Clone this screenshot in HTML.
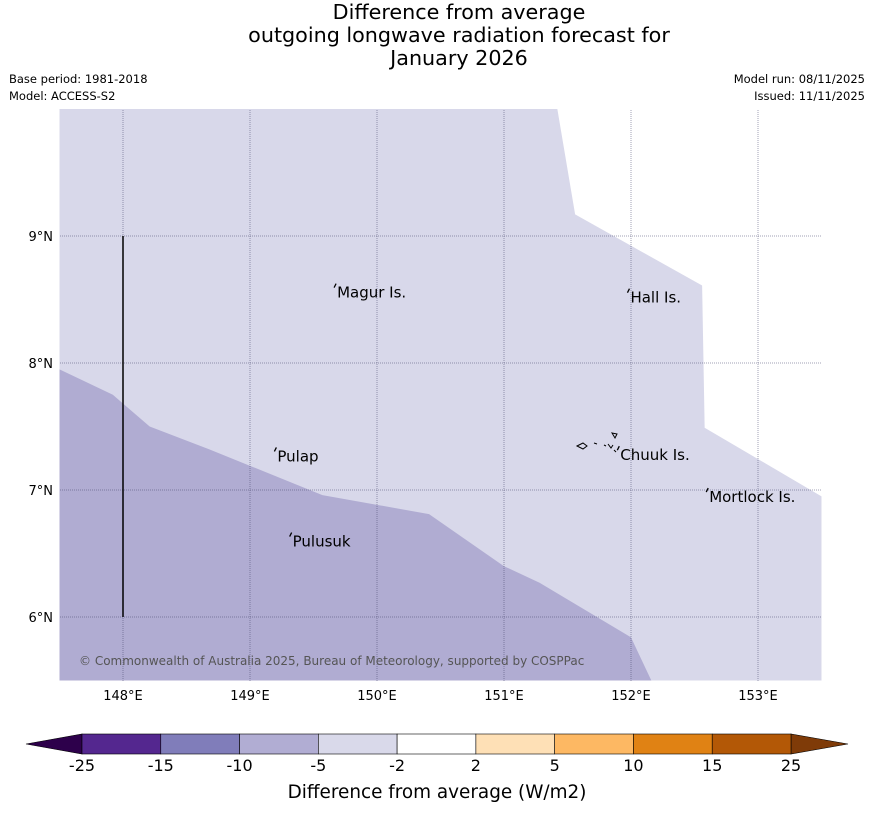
<!DOCTYPE html>
<html><head><meta charset="utf-8"><style>
body{margin:0;background:#fff;width:873px;height:816px;overflow:hidden;font-family:"Liberation Sans","DejaVu Sans",sans-serif}
</style></head><body>
<svg id="c" width="873" height="816" xmlns="http://www.w3.org/2000/svg" font-family="DejaVu Sans, Liberation Sans, sans-serif">
<g font-size="20.7" text-anchor="middle" fill="#000">
<text x="459" y="19">Difference from average</text>
<text x="459" y="42">outgoing longwave radiation forecast for</text>
<text x="459" y="65">January 2026</text>
</g>
<g font-size="11.5" fill="#000">
<text x="9" y="83">Base period: 1981-2018</text>
<text x="9" y="100">Model: ACCESS-S2</text>
<text x="865" y="83" text-anchor="end">Model run: 08/11/2025</text>
<text x="865" y="100" text-anchor="end">Issued: 11/11/2025</text>
</g>
<g id="map"></g>
<g id="cb"></g>
<text x="437" y="798" font-size="18.4" text-anchor="middle">Difference from average (W/m2)</text>
</svg>
<script>
const lonTicks=[148,149,150,151,152,153];
const latTicks=[9,8,7,6];
const lightRegion=[[147.5,10],[151.42,10],[151.56,9.17],[152.56,8.61],[152.58,7.49],[153.5,6.95],[153.5,5.5],[147.5,5.5]];
const darkRegion=[[147.5,7.95],[147.92,7.75],[148.21,7.5],[148.68,7.32],[149.57,6.96],[150.41,6.81],[151,6.4],[151.28,6.27],[152,5.84],[152.16,5.5],[147.5,5.5]];
const islands=[["Magur Is.",149.67,8.57],["Hall Is.",151.98,8.53],["Pulap",149.2,7.28],["Chuuk Is.",151.9,7.29],["Mortlock Is.",152.6,6.96],["Pulusuk",149.32,6.61]];
const NS="http://www.w3.org/2000/svg";
const cbLevels=[-25,-15,-10,-5,-2,2,5,10,15,25];
const cbColors=["#54278f","#807dba","#b1add3","#d9d9ea","#ffffff","#fee0b6","#fdb863","#e08214","#b35806"];
const X=l=>123+(l-148)*127, Y=t=>236-(t-9)*127;
function mk(p,tag,a){const e=document.createElementNS(NS,tag);for(const k in a)e.setAttribute(k,a[k]);p.appendChild(e);return e;}
const map=document.getElementById('map');
let e=mk(map,'polygon',{points:lightRegion.map(p=>X(p[0])+','+Y(p[1])).join(' '),fill:'#d8d8ea'});


e=mk(map,'polygon',{points:darkRegion.map(p=>X(p[0])+','+Y(p[1])).join(' '),fill:'#b0acd2'});


lonTicks.forEach(l=>{
 e=mk(map,'line',{x1:X(l),x2:X(l),y1:110,y2:681,stroke:'#44446a','stroke-width':0.5,'stroke-dasharray':'1,1'});
 
 
 e=mk(map,'text',{x:X(l),y:700,'font-size':13,'text-anchor':'middle'});e.textContent=l+'°E';
 
 
});
latTicks.forEach(t=>{
 e=mk(map,'line',{x1:60,x2:822,y1:Y(t),y2:Y(t),stroke:'#44446a','stroke-width':0.5,'stroke-dasharray':'1,1'});
 
 
 e=mk(map,'text',{x:53,y:Y(t)+5,'font-size':13,'text-anchor':'end'});e.textContent=t+'°N';
 
 
});
e=mk(map,'line',{x1:X(148),x2:X(148),y1:Y(9),y2:Y(6),stroke:'#000','stroke-width':1.5});


islands.forEach(s=>{
 e=mk(map,'path',{d:`M${X(s[1])-1},${Y(s[2])-3} l2,-4`,stroke:'#000','stroke-width':1.3});
 
 
 e=mk(map,'text',{x:X(s[1])+2,y:Y(s[2])+7,'font-size':15});e.textContent=s[0];
 
 
});
e=mk(map,'path',{d:'M577,446 l6,-3 l4,3 l-4,3z M594,443 l3,1 M604,445 l2,1 M608,444 l3,4 l2,-3 M612,433 l5,1 l-2,4z M614,450 l2,2',stroke:'#000','stroke-width':1,fill:'none'});


e=mk(map,'text',{x:79,y:665,'font-size':12,fill:'#555'});e.textContent='© Commonwealth of Australia 2025, Bureau of Meteorology, supported by COSPPac';


const cb=document.getElementById('cb');
const w=(791-82)/(cbLevels.length-1);
e=mk(cb,'polygon',{points:'26,744 82,734 82,754',fill:'#2d004b',stroke:'#000','stroke-width':0.6});


e=mk(cb,'polygon',{points:'848,744 791,734 791,754',fill:'#7f3b08',stroke:'#000','stroke-width':0.6});


cbColors.forEach((c,i)=>{
 e=mk(cb,'rect',{x:82+i*w,y:734,width:w,height:20,fill:c,stroke:'#000','stroke-width':0.6});
 
 
});
cbLevels.forEach((v,i)=>{
 e=mk(cb,'text',{x:82+i*w,y:771,'font-size':16,'text-anchor':'middle'});e.textContent=v;
 
 
});
</script>
</body></html>
